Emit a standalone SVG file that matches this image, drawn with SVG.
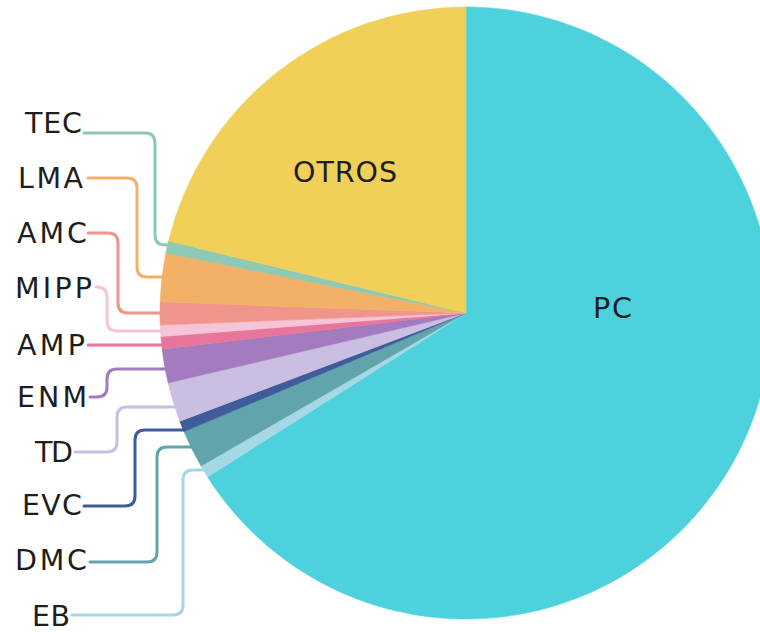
<svg xmlns="http://www.w3.org/2000/svg" width="760" height="632" viewBox="0 0 760 632">
<style>
.lbl{font-family:"DejaVu Sans","Noto Sans","Liberation Sans",sans-serif;font-size:28.5px;fill:#1e1e1e;}
.end{text-anchor:end;}
.mid{text-anchor:middle;}
.con{fill:none;stroke-width:3;stroke-linecap:round;stroke-linejoin:round;}
</style>
<rect width="760" height="632" fill="#ffffff"/>
<g id="connectors">
<path class="con" stroke="#8EC9B4" d="M84,133 H145 Q155,133 155,143 V235 Q155,245 165,245 H180"/>
<path class="con" stroke="#F2B166" d="M88,178 H127 Q137,178 137,188 V267 Q137,277 147,277 H180"/>
<path class="con" stroke="#F0958C" d="M88,233 H108 Q118,233 118,243 V303 Q118,313 128,313 H180"/>
<path class="con" stroke="#F5C4D6" d="M96,287 H97 Q107,287 107,297 V321 Q107,331 117,331 H180"/>
<path class="con" stroke="#E8769A" d="M88,345 H180"/>
<path class="con" stroke="#A47BBE" d="M90,397 H97 Q107,397 107,387 V379 Q107,369 117,369 H180"/>
<path class="con" stroke="#CBBEE3" d="M75,452 H107 Q117,452 117,442 V417 Q117,407 127,407 H185"/>
<path class="con" stroke="#3E5C99" d="M84,506 H125 Q135,506 135,496 V440 Q135,430 145,430 H195"/>
<path class="con" stroke="#62A4AB" d="M90,562 H147 Q157,562 157,552 V457 Q157,447 167,447 H210"/>
<path class="con" stroke="#A6D7E4" d="M72,615 H173 Q183,615 183,605 V480 Q183,470 193,470 H220"/>
</g>
<g id="PC"><path fill="#4DD2DD" stroke="#4DD2DD" stroke-width="0.6" d="M466,313 L466,7 A306,306 0 1,1 207.6,477 Z"/><text class="lbl mid" x="612.5" y="318" textLength="39">PC</text></g>
<g id="EB"><path fill="#A6D7E4" stroke="#A6D7E4" stroke-width="0.6" d="M466,313 L207.6,477 A306,306 0 0,1 201,466 Z"/></g>
<g id="DMC"><path fill="#62A4AB" stroke="#62A4AB" stroke-width="0.6" d="M466,313 L201,466 A306,306 0 0,1 183.9,431.6 Z"/></g>
<g id="EVC"><path fill="#3E5C99" stroke="#3E5C99" stroke-width="0.6" d="M466,313 L183.9,431.6 A306,306 0 0,1 179.8,421.2 Z"/></g>
<g id="TD"><path fill="#CBBEE3" stroke="#CBBEE3" stroke-width="0.6" d="M466,313 L179.8,421.2 A306,306 0 0,1 168.1,382.9 Z"/></g>
<g id="ENM"><path fill="#A47BBE" stroke="#A47BBE" stroke-width="0.6" d="M466,313 L168.1,382.9 A306,306 0 0,1 162.1,349.2 Z"/></g>
<g id="AMP"><path fill="#E8769A" stroke="#E8769A" stroke-width="0.6" d="M466,313 L162.1,349.2 A306,306 0 0,1 160.9,336.5 Z"/></g>
<g id="MIPP"><path fill="#F5C4D6" stroke="#F5C4D6" stroke-width="0.6" d="M466,313 L160.9,336.5 A306,306 0 0,1 160.2,325 Z"/></g>
<g id="AMC"><path fill="#F0958C" stroke="#F0958C" stroke-width="0.6" d="M466,313 L160.2,325 A306,306 0 0,1 160.2,301.8 Z"/></g>
<g id="LMA"><path fill="#F2B166" stroke="#F2B166" stroke-width="0.6" d="M466,313 L160.2,301.8 A306,306 0 0,1 165.9,253 Z"/></g>
<g id="TEC"><path fill="#8EC9B4" stroke="#8EC9B4" stroke-width="0.6" d="M466,313 L165.9,253 A306,306 0 0,1 168.6,241 Z"/></g>
<g id="OTROS"><path fill="#F0D058" stroke="#F0D058" stroke-width="0.6" d="M466,313 L168.6,241 A306,306 0 0,1 466,7 Z"/><text class="lbl mid" x="345" y="182" textLength="104">OTROS</text></g>
<g id="labels">
<text class="lbl end" x="82" y="133" textLength="57">TEC</text>
<text class="lbl end" x="83" y="188" textLength="65">LMA</text>
<text class="lbl end" x="87" y="243" textLength="70">AMC</text>
<text class="lbl end" x="92" y="298" textLength="77">MIPP</text>
<text class="lbl end" x="85" y="355" textLength="68">AMP</text>
<text class="lbl end" x="87" y="407" textLength="70">ENM</text>
<text class="lbl end" x="73" y="462" textLength="38">TD</text>
<text class="lbl end" x="82" y="515" textLength="60">EVC</text>
<text class="lbl end" x="87" y="570" textLength="72">DMC</text>
<text class="lbl end" x="70" y="626" textLength="38">EB</text>
</g>
</svg>
